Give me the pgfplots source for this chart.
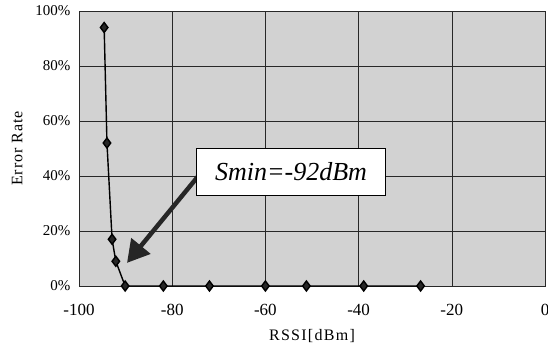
\documentclass[border=0pt]{standalone}
\usepackage{pgfplots}
\pgfplotsset{compat=1.18}
\usepackage{fontspec}
\setmainfont{Liberation Serif}
\usetikzlibrary{arrows.meta}
\definecolor{bggray}{RGB}{210,210,210}
\definecolor{gridc}{RGB}{40,40,40}
\begin{document}
\begin{tikzpicture}[x=1pt,y=1pt]
\useasboundingbox (0,0) rectangle (548,346);
\begin{axis}[
  at={(79pt,60pt)}, anchor=south west,
  scale only axis, width=466pt, height=275pt,
  xmin=-100, xmax=0, ymin=0, ymax=100,
  xtick={-100,-80,...,0}, ytick={0,20,...,100},
  yticklabel={\pgfmathprintnumber{\tick}\%},
  /pgf/number format/assume math mode=true,
  grid=major,
  major grid style={gridc, line width=0.6pt},
  axis line style={gridc, line width=0.6pt},
  axis background/.style={fill=bggray},
  tick style={draw=none},
  xticklabel style={font=\fontsize{17}{17}\selectfont, yshift=-15pt},
  yticklabel style={font=\fontsize{15}{15}\selectfont, xshift=-5pt},
  xlabel={RSSI[dBm]}, ylabel={Error Rate},
  xlabel style={font=\fontsize{16}{16}\selectfont\addfontfeatures{LetterSpace=8}, yshift=-7pt},
  ylabel style={font=\fontsize{16}{16}\selectfont\addfontfeatures{LetterSpace=6}, yshift=6pt},
  clip=false,
]
\addplot[black, line width=1.4pt, mark=diamond*, mark size=5pt, mark options={fill=black!85}] coordinates {
 (-94.6,94) (-94,52) (-92.9,17) (-92.1,9) (-90.1,0) (-81.9,0) (-72,0) (-60,0) (-51.2,0) (-38.9,0) (-26.7,0)
};
\draw[black!85, line width=4.5pt, -{Triangle[length=22pt,width=24pt]}] (axis cs:-74.2,40.4) -- (axis cs:-89.7,8.4);
\node[draw=black, line width=0.9pt, fill=white, minimum width=189pt, minimum height=47pt, inner sep=0pt,
  font=\fontsize{26}{26}\selectfont\itshape] at (axis cs:-54.5,41.6) {Smin=-92dBm};
\end{axis}
\end{tikzpicture}
\end{document}
